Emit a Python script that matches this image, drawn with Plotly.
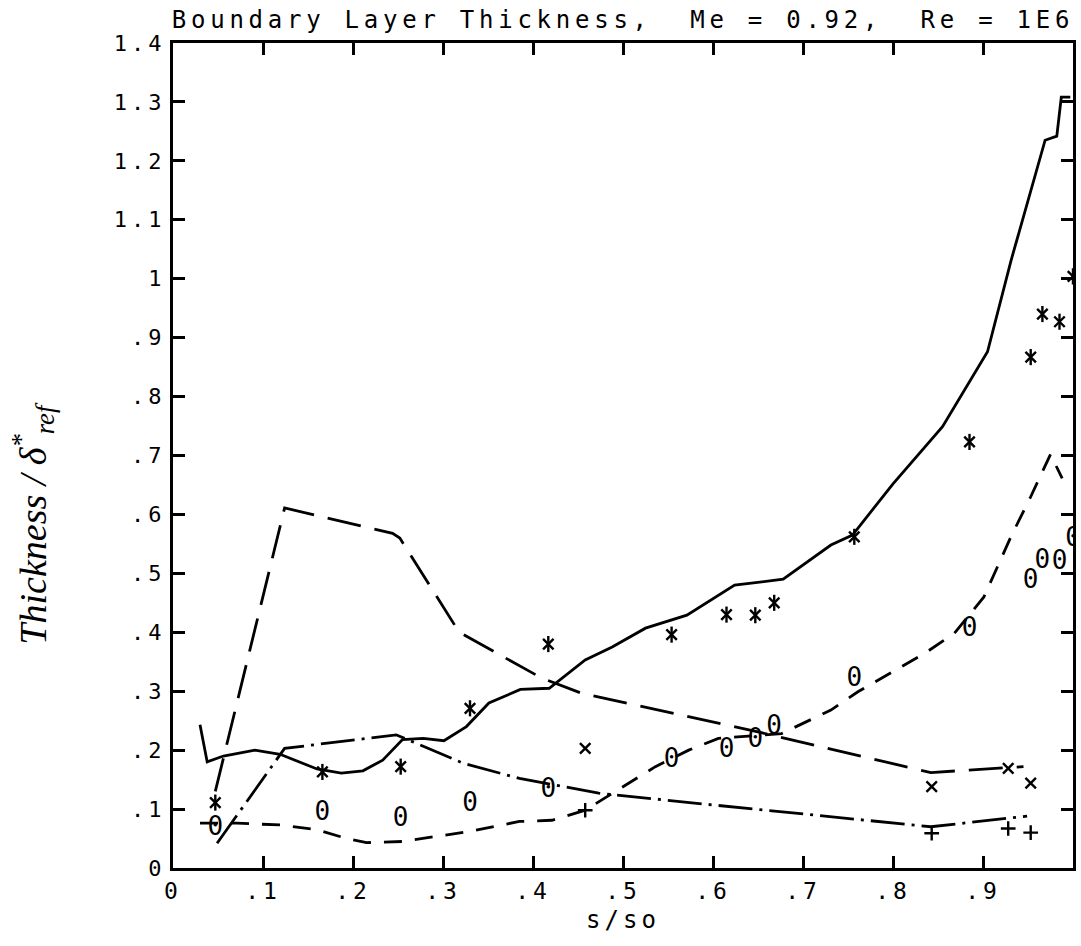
import plotly.graph_objects as go

# ---------------- data ----------------
solid_x = [0.030, 0.038, 0.056, 0.091, 0.119, 0.160, 0.187, 0.211, 0.233, 0.255, 0.278, 0.301,
           0.326, 0.351, 0.386, 0.418, 0.458, 0.488, 0.525, 0.571, 0.624, 0.678, 0.731, 0.755,
           0.800, 0.855, 0.905, 0.931, 0.969, 0.982, 0.987, 0.997]
solid_y = [0.243, 0.180, 0.190, 0.200, 0.193, 0.168, 0.161, 0.165, 0.183, 0.218, 0.220, 0.216,
           0.240, 0.280, 0.303, 0.305, 0.353, 0.375, 0.407, 0.429, 0.480, 0.490, 0.548, 0.565,
           0.652, 0.749, 0.876, 1.030, 1.235, 1.242, 1.308, 1.308]

longdash_x = [0.047, 0.124, 0.244, 0.252, 0.318, 0.410, 0.455, 0.540, 0.650, 0.750, 0.842, 0.945]
longdash_y = [0.130, 0.611, 0.568, 0.560, 0.400, 0.322, 0.296, 0.268, 0.231, 0.195, 0.162, 0.172]

dashdot_x = [0.049, 0.124, 0.248, 0.322, 0.385, 0.473, 0.600, 0.700, 0.842, 0.949]
dashdot_y = [0.042, 0.203, 0.226, 0.178, 0.152, 0.127, 0.107, 0.092, 0.070, 0.088]

shortdash_x = [0.030, 0.071, 0.119, 0.160, 0.193, 0.215, 0.255, 0.292, 0.329, 0.385, 0.421, 0.458,
               0.536, 0.573, 0.606, 0.676, 0.731, 0.761, 0.835, 0.868, 0.901, 0.931, 0.953, 0.975, 0.988]
shortdash_y = [0.076, 0.076, 0.073, 0.065, 0.050, 0.043, 0.045, 0.053, 0.062, 0.079, 0.081, 0.098,
               0.172, 0.200, 0.220, 0.228, 0.268, 0.299, 0.364, 0.398, 0.460, 0.562, 0.630, 0.702, 0.661]

upper_x = [0.047, 0.166, 0.253, 0.330, 0.417, 0.554, 0.615, 0.647, 0.668, 0.757, 0.885, 0.953, 0.966, 0.985, 1.000]
star_y = [0.111, 0.163, 0.172, 0.271, 0.380, 0.396, 0.430, 0.429, 0.450, 0.562, 0.723, 0.867, 0.940, 0.927, 1.004]
zero_y = [0.067, 0.093, 0.083, 0.107, 0.132, 0.183, 0.199, 0.216, 0.238, 0.320, 0.405, 0.486, 0.520, 0.518, 0.558]

lower_x = [0.458, 0.843, 0.928, 0.953]
cross_y = [0.203, 0.138, 0.169, 0.144]
plus_y = [0.098, 0.059, 0.067, 0.060]

x_ticks = [0, 0.1, 0.2, 0.3, 0.4, 0.5, 0.6, 0.7, 0.8, 0.9, 1.0]
x_ticklabels = ["0", ".1", ".2", ".3", ".4", ".5", ".6", ".7", ".8", ".9", "1"]
y_ticks = [0, 0.1, 0.2, 0.3, 0.4, 0.5, 0.6, 0.7, 0.8, 0.9, 1.0, 1.1, 1.2, 1.3, 1.4]
y_ticklabels = ["0", ".1", ".2", ".3", ".4", ".5", ".6", ".7", ".8", ".9", "1", "1.1", "1.2", "1.3", "1.4"]

title_text = "Boundary Layer Thickness,  Me = 0.92,  Re = 1E6"
xlabel_text = "s/so"
ylabel_text = "<i>Thickness / δ<sup>*</sup><sub>ref</sub></i>"

MONO = "DejaVu Sans Mono"
LW = 2.8


def spaced(t, px):
    return '<span style="letter-spacing:%.2fpx">%s</span>' % (px, t)


fig = go.Figure()

fig.add_trace(go.Scatter(x=solid_x, y=solid_y, mode="lines",
                         line=dict(color="black", width=LW)))
fig.add_trace(go.Scatter(x=longdash_x, y=longdash_y, mode="lines",
                         line=dict(color="black", width=LW, dash="34px,14px")))
fig.add_trace(go.Scatter(x=dashdot_x, y=dashdot_y, mode="lines",
                         line=dict(color="black", width=LW, dash="34px,7px,3px,7px")))
fig.add_trace(go.Scatter(x=shortdash_x, y=shortdash_y, mode="lines",
                         line=dict(color="black", width=LW, dash="18px,13px")))

# asterisks (x + vertical bar)
fig.add_trace(go.Scatter(x=upper_x, y=star_y, mode="markers",
                         marker=dict(symbol="x-thin-open", size=10.5, color="black",
                                     line=dict(color="black", width=2.4))))
fig.add_trace(go.Scatter(x=upper_x, y=star_y, mode="markers",
                         marker=dict(symbol="line-ns-open", size=11.5, color="black",
                                     line=dict(color="black", width=2.4))))
# zeros
fig.add_trace(go.Scatter(x=upper_x, y=zero_y, mode="text", text=["0"] * len(upper_x),
                         textposition="middle center",
                         textfont=dict(family=MONO, size=26, color="black")))
# crosses
fig.add_trace(go.Scatter(x=lower_x, y=cross_y, mode="markers",
                         marker=dict(symbol="x-thin-open", size=10.5, color="black",
                                     line=dict(color="black", width=2.4))))
# plus
fig.add_trace(go.Scatter(x=lower_x, y=plus_y, mode="markers",
                         marker=dict(symbol="cross-thin-open", size=10.5, color="black",
                                     line=dict(color="black", width=2.4))))

axis_common = dict(showline=True, linecolor="black", linewidth=3, mirror="ticks",
                   ticks="inside", ticklen=12, tickwidth=3, tickcolor="black",
                   showgrid=False, zeroline=False)

fig.update_xaxes(range=[0, 1], tickmode="array", tickvals=x_ticks,
                 ticktext=[spaced(t, 4) for t in x_ticklabels],
                 tickfont=dict(family=MONO, size=23, color="black"),
                 title=dict(text=spaced(xlabel_text, 4), standoff=9,
                            font=dict(family=MONO, size=24, color="black")),
                 **axis_common)
fig.update_yaxes(range=[0, 1.4], tickmode="array", tickvals=y_ticks,
                 ticktext=[spaced(t, 4) for t in y_ticklabels],
                 tickfont=dict(family=MONO, size=22, color="black"),
                 **axis_common)

fig.update_layout(
    width=1081, height=946,
    margin=dict(l=173, r=5, t=43, b=78),
    paper_bgcolor="white", plot_bgcolor="white",
    showlegend=False,
    title=dict(text=spaced(title_text, 4.75), x=0.5, xref="paper", xanchor="center",
               y=1 - 20 / 946, yref="container", yanchor="middle",
               font=dict(family=MONO, size=24, color="black")),
    annotations=[
        dict(text=ylabel_text, xref="paper", yref="paper",
             x=-0.155, y=0.418, xanchor="center", yanchor="middle", textangle=-90,
             showarrow=False, font=dict(family="Liberation Serif", size=38, color="black")),
    ],
)

fig.write_html("out.html")
